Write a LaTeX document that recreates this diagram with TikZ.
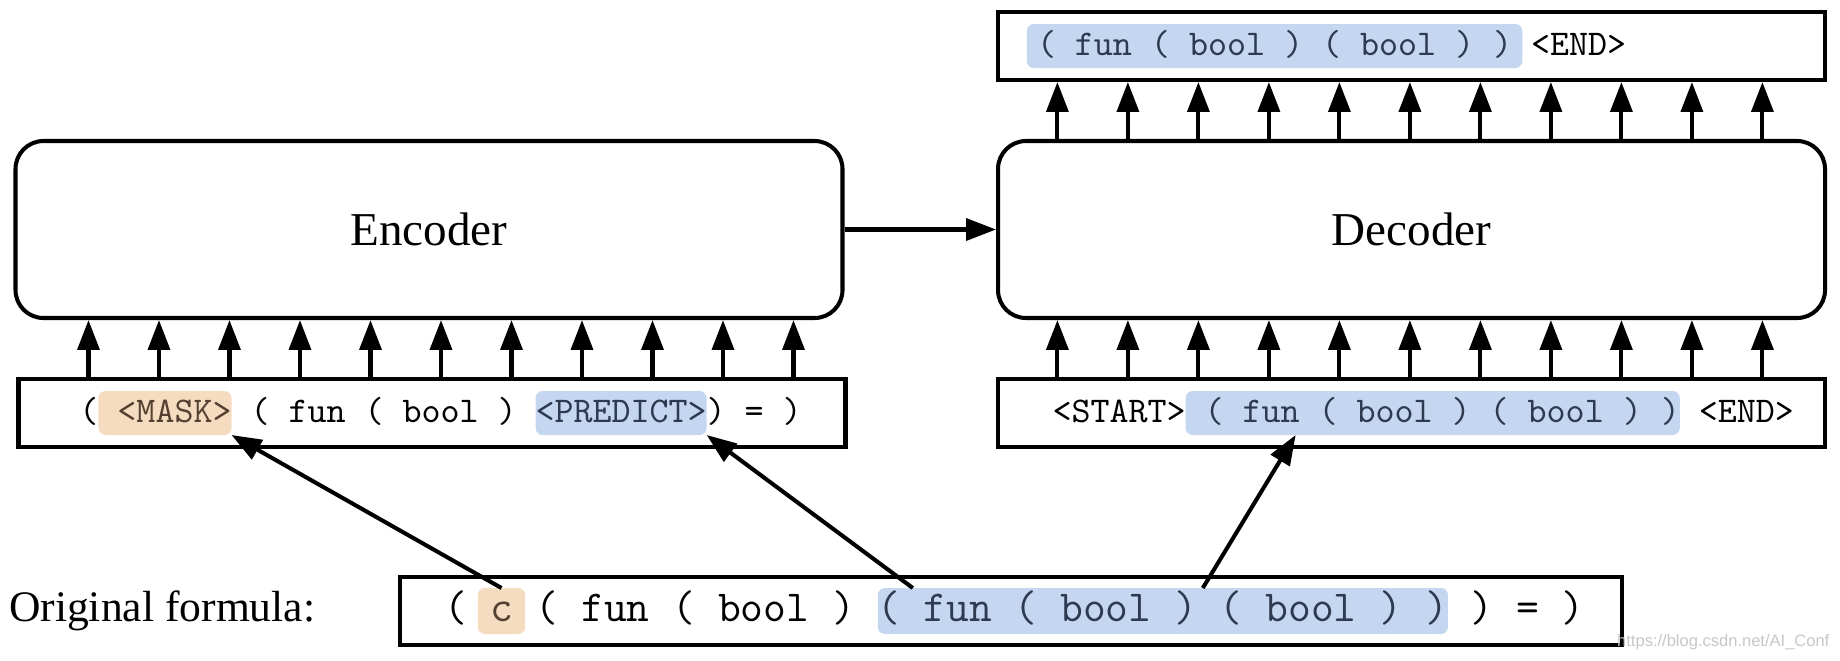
\documentclass[tikz,border=0pt]{standalone}
\usepackage{fontspec}
\setmainfont{Liberation Serif}
\newfontfamily\wmfont{Liberation Sans}
\usetikzlibrary{positioning,arrows.meta}
\definecolor{hlblue}{RGB}{196,214,240}
\definecolor{hlorange}{RGB}{245,220,193}
\definecolor{bluetext}{RGB}{45,58,80}
\definecolor{orangetext}{RGB}{85,65,50}
\frenchspacing

\begin{document}
\begin{tikzpicture}[
        box/.style={draw, line width=1.15pt, minimum height=0.68cm, inner sep=0pt},
        coder/.style={draw, line width=1.15pt, rounded corners=0.28cm, minimum width=8.27cm, minimum height=1.77cm, font=\fontsize{13.4}{16}\selectfont},
        tok/.style={inner sep=0pt, outer sep=0pt, text height=6.2pt, text depth=1.0pt, minimum height=0.44cm, font=\ttfamily\fontsize{10.3}{12}\selectfont},
        otok/.style={tok, text height=7.5pt, text depth=1.25pt, minimum height=0.46cm, font=\ttfamily\fontsize{12.6}{14}\selectfont},
        hlb/.style={fill=hlblue, text=bluetext, rounded corners=2pt, inner xsep=#1, outer xsep=-#1},
        hlo/.style={fill=hlorange, text=orangetext, rounded corners=2pt, inner xsep=#1, outer xsep=-#1},
        arr/.style={-{Triangle[length=8.5pt, width=6.2pt]}, line width=1.15pt},
    ]
        \useasboundingbox (0,0) rectangle (18.4,6.6);
        \node[coder](Enc) at (4.29, 4.305){Encoder};
        \node[coder](Dec) at (14.115, 4.305){Decoder};
        \node[box, minimum width=8.27cm](Out) at (14.115, 6.14){};
        \node[box, minimum width=8.27cm](EncIn) at (4.32, 2.47){};
        \node[box, minimum width=8.27cm](DecIn) at (14.115, 2.47){};
        \node[box, minimum width=12.22cm](Orig) at (10.11, 0.49){};
        \node[left=0.82cm of Orig, inner sep=0pt, font=\fontsize{12.4}{15}\selectfont](OrigLabel){Original formula:};
        \node[anchor=east, inner sep=0pt, text=black!22, font=\wmfont\fontsize{4.7}{5}\selectfont](Mark) at (18.30, 0.18){https://blog.csdn.net/AI\_Conf};

        \begin{scope}[node distance=0pt]
            \node[tok, hlb=2.9pt, right=0.41cm of Out.west](OutFm){( fun ( bool ) ( bool ) )};
            \node[tok, right=of OutFm](OutEnd){\ <END>};

            \node[tok, right=0.63cm of EncIn.west](E1){(};
            \node[tok, hlo=0pt, right=of E1](Mask){\ <MASK>};
            \node[tok, right=of Mask](E2){\ ( fun ( bool )\ \null};
            \node[tok, hlb=0pt, right=of E2](Pred){<PREDICT>};
            \node[tok, right=of Pred](E3){) = )};

            \node[tok, right=0.566cm of DecIn.west](DecStart){<START>};
            \node[tok, hlb=0pt, right=of DecStart](DecFm){\ ( fun ( bool ) ( bool ) )};
            \node[tok, right=of DecFm](DecEnd){\ <END>};

            \node[otok, right=0.465cm of Orig.west](O1){(\ \null};
            \node[otok, hlo=3.5pt, right=of O1](OrigC){c};
            \node[otok, right=of OrigC](O2){\ ( fun ( bool )\ \null};
            \node[otok, hlb=0pt, right=of O2](OrigFm){( fun ( bool ) ( bool ) )};
            \node[otok, right=of OrigFm](O3){\ ) = )};
        \end{scope}

        \foreach \i in {0,...,10}{
            \draw[arr] ([xshift=0.75cm+\i*0.705cm]Enc.south west |- EncIn.north) -- ([xshift=0.75cm+\i*0.705cm]Enc.south west);
            \draw[arr] ([xshift=0.614cm+\i*0.705cm]Dec.south west |- DecIn.north) -- ([xshift=0.614cm+\i*0.705cm]Dec.south west);
            \draw[arr] ([xshift=0.614cm+\i*0.705cm]Dec.north west) -- ([xshift=0.614cm+\i*0.705cm]Dec.north west |- Out.south);
        }
        \path[arr]
        (Enc)edge(Dec)
        (OrigC.north)edge(Mask.south east)
        ([xshift=0.35cm]OrigFm.north west)edge(Pred.south east)
        ([xshift=3.25cm]OrigFm.north west)edge([xshift=1.10cm]DecFm.south west)
        ;
    \end{tikzpicture}
\end{document}
